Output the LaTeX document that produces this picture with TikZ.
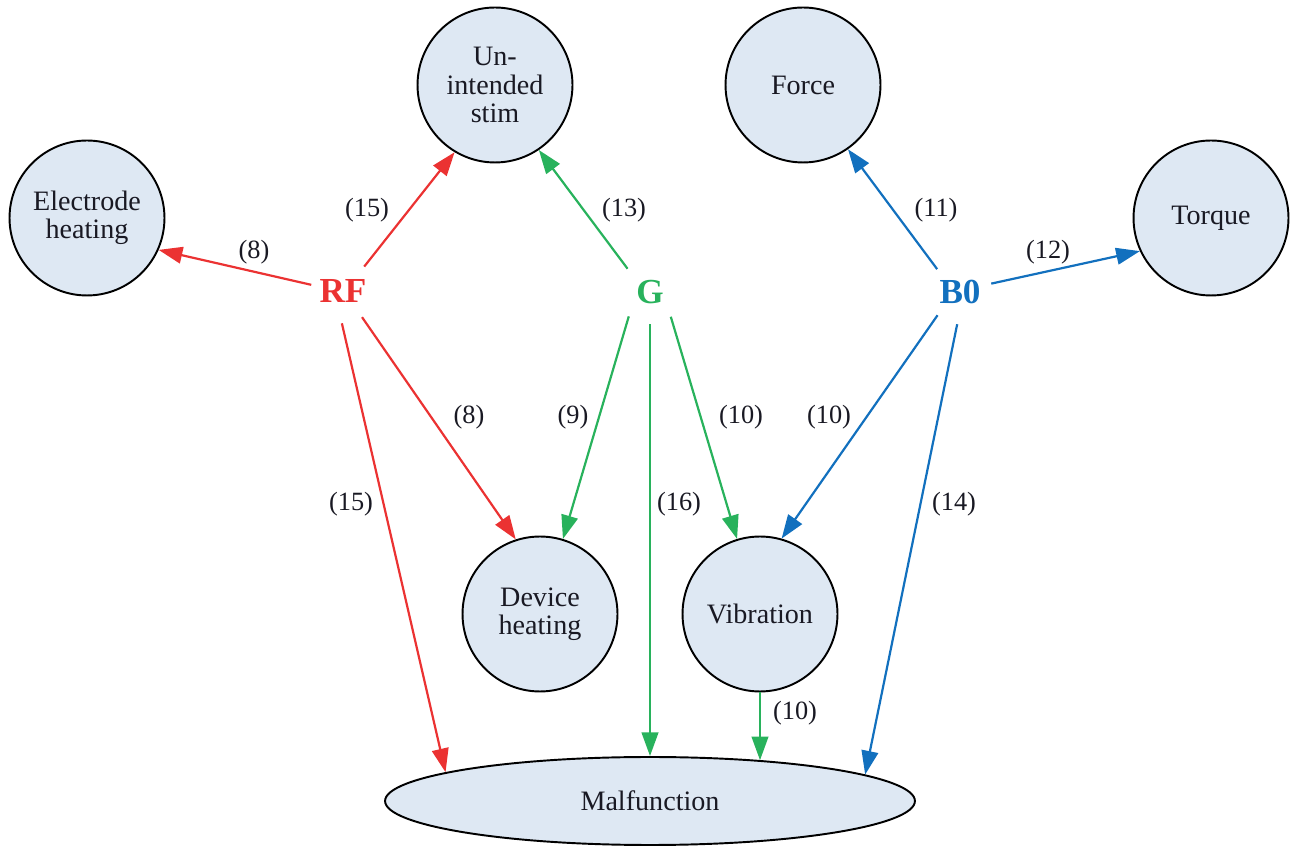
\documentclass[tikz,border=0pt]{standalone}
\usepackage{fontspec}
\setmainfont{Liberation Serif}
\usetikzlibrary{arrows.meta,shapes.geometric}
\definecolor{rojo}{RGB}{235,50,50}
\definecolor{verde}{RGB}{40,178,92}
\definecolor{azul}{RGB}{18,112,190}
\definecolor{relleno}{RGB}{222,232,243}
\definecolor{texto}{RGB}{25,25,35}
\tikzset{
  efecto/.style={circle, draw=black, line width=1.1pt, fill=relleno, minimum size=3.1cm, inner sep=0pt, align=center, text=texto, font=\fontsize{16}{16}\selectfont},
  causa/.style={circle, minimum size=1.28cm, inner sep=0pt, font=\fontsize{20}{20}\selectfont\bfseries},
  etiq/.style={inner sep=1pt, text=texto, font=\fontsize{15}{15}\selectfont},
  flecha/.style={line width=1.25pt, -{Triangle[length=13.5pt,width=9.5pt]}}
}
\begin{document}
\begin{tikzpicture}[x=0.02cm, y=0.02cm]
    \useasboundingbox (0,0) rectangle (1291,848);
    % Efectos
    \node[efecto] (elec) at (87,630) {Electrode\\heating};
    \node[efecto] (unint) at (495,763) {Un-\\intended\\stim};
    \node[efecto] (force) at (803,763) {Force};
    \node[efecto] (torque) at (1211,630) {Torque};
    \node[efecto] (dev) at (540,234) {Device\\heating};
    \node[efecto] (vib) at (760,234) {Vibration};
    \node[efecto, ellipse, minimum width=10.6cm, minimum height=1.76cm] (malf) at (650,47) {Malfunction};
    % Causas
    \node[causa, text=rojo] (rf) at (343,557) {RF};
    \node[causa, text=verde] (g) at (650,556) {G};
    \node[causa, text=azul] (b0) at (960,556) {B0};
    % Flechas RF
    \draw[flecha, rojo] (rf.169) -- (elec.-24);
    \draw[flecha, rojo] (rf.49) -- (unint.-121);
    \draw[flecha, rojo] (rf.-54) -- (dev.108);
    \draw[flecha, rojo] (rf.-92) -- (malf.172.5);
    % Flechas G
    \draw[flecha, verde] (g.134) -- (unint.-56);
    \draw[flecha, verde] (g.-131) -- (dev.73.5);
    \draw[flecha, verde] (g.-90) -- (malf.north);
    \draw[flecha, verde] (g.-50) -- (vib.107);
    \draw[flecha, verde] (vib.south) -- (vib.south |- malf.20);
    % Flechas B0
    \draw[flecha, azul] (b0.135) -- (force.-55);
    \draw[flecha, azul] (b0.15) -- (torque.205);
    \draw[flecha, azul] (b0.-134) -- (vib.74);
    \draw[flecha, azul] (b0.-95) -- (malf.7.5);
    % Etiquetas
    \node[etiq] (e1) at (254,596) {(8)};
    \node[etiq] (e2) at (367,638) {(15)};
    \node[etiq] (e3) at (624,638) {(13)};
    \node[etiq] (e4) at (936,638) {(11)};
    \node[etiq] (e5) at (1048,596) {(12)};
    \node[etiq] (e6) at (469,431) {(8)};
    \node[etiq] (e7) at (573,431) {(9)};
    \node[etiq] (e8) at (741,431) {(10)};
    \node[etiq] (e9) at (829,431) {(10)};
    \node[etiq] (e10) at (351,344) {(15)};
    \node[etiq] (e11) at (679,344) {(16)};
    \node[etiq] (e12) at (954,344) {(14)};
    \node[etiq] (e13) at (795,135) {(10)};
\end{tikzpicture}
\end{document}
